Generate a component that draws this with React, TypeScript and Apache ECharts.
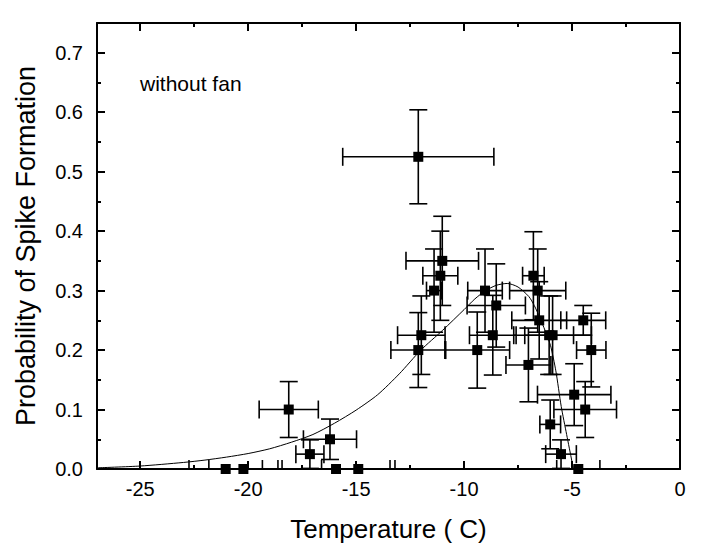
import React, { useEffect, useRef } from "react";
import * as echarts from "echarts";

// ---- axis ticks / labels ----
const xMajorTicks = [-25, -20, -15, -10, -5, 0];
const xMinorTicks = [-22.5, -17.5, -12.5, -7.5, -2.5];
const yMajorTicks = [0, 0.1, 0.2, 0.3, 0.4, 0.5, 0.6, 0.7];
const yMinorTicks = [0.05, 0.15, 0.25, 0.35, 0.45, 0.55, 0.65];

// ---- measured points (temperature, probability, x error, y error) ----
const temperature = [
  -21.04, -20.22, -18.12, -17.14, -16.21, -15.93, -14.9,
  -12.12, -11.01, -11.1, -11.39, -11.98, -12.12,
  -9.03, -8.51, -8.67, -9.39, -7.02,
  -6.79, -6.59, -6.52, -6.06, -5.9,
  -4.48, -4.11, -4.9, -4.39, -6.01, -5.51, -4.71,
];
const probability = [
  0, 0, 0.1, 0.025, 0.05, 0, 0,
  0.525, 0.35, 0.325, 0.3, 0.225, 0.2,
  0.3, 0.275, 0.225, 0.2, 0.175,
  0.325, 0.3, 0.25, 0.225, 0.225,
  0.25, 0.2, 0.125, 0.1, 0.075, 0.025, 0,
];
const temperatureError = [
  1.7, 1.6, 1.37, 0.65, 1.23, 2.5, 1.7,
  3.5, 1.68, 0.81, 0.35, 1.1, 1.27,
  0.8, 1.35, 1.08, 1.5, 1.04,
  0.5, 1.3, 1.27, 1.13, 1.8,
  1.04, 0.68, 1.7, 1.45, 0.48, 0.71, 1.0,
];
const probabilityError = [
  0, 0, 0.047, 0.024, 0.034, 0, 0,
  0.079, 0.075, 0.075, 0.07, 0.066, 0.063,
  0.07, 0.07, 0.067, 0.064, 0.062,
  0.074, 0.07, 0.065, 0.066, 0.066,
  0.025, 0.062, 0.052, 0.047, 0.041, 0.024, 0,
];

// ---- fitted curve ----
const fitTemperature = [
  -27, -25, -23, -22, -21, -20, -19, -18, -17, -16, -15, -14, -13, -12, -11, -10,
  -9.5, -9, -8.5, -8, -7.5, -7, -6.75, -6.5, -6.25, -6, -5.75, -5.5, -5.25, -5.0, -4.93,
];
const fitProbability = [
  0.002, 0.005, 0.011, 0.015, 0.02, 0.026, 0.034, 0.045, 0.058, 0.077, 0.099, 0.125, 0.16, 0.2, 0.233, 0.268,
  0.286, 0.3, 0.309, 0.312, 0.306, 0.29, 0.275, 0.255, 0.233, 0.208, 0.165, 0.105, 0.058, 0.012, 0,
];

const FONT = "'Liberation Sans', Arial, sans-serif";
const BLACK = "#000000";

export default function App() {
  const ref = useRef<HTMLDivElement>(null);

  useEffect(() => {
    if (!ref.current) return;
    const chart = echarts.init(ref.current, undefined, { renderer: "svg" });

    const points = temperature.map((t, i) => [t, probability[i], temperatureError[i], probabilityError[i]]);
    const fit = fitTemperature.map((t, i) => [t, fitProbability[i]]);

    const axisLine = { show: true, onZero: false, lineStyle: { color: BLACK, width: 2 } };

    const xBase = {
      type: "value" as const,
      min: -27,
      max: 0,
      gridIndex: 0,
      splitLine: { show: false },
      axisLine,
    };
    const yBase = {
      type: "value" as const,
      min: 0,
      max: 0.75,
      gridIndex: 0,
      splitLine: { show: false },
      axisLine,
    };

    const option: any = {
      animation: false,
      backgroundColor: "#ffffff",
      grid: { left: 97, right: 23, top: 23, bottom: 83, containLabel: false, outerBoundsMode: "none" },
      xAxis: [
        {
          ...xBase,
          position: "bottom",
          axisTick: { show: true, inside: true, length: 8, customValues: xMajorTicks, lineStyle: { color: BLACK, width: 2 } },
          axisLabel: {
            show: true,
            customValues: xMajorTicks,
            color: BLACK,
            fontSize: 20,
            fontFamily: FONT,
            margin: 10,
          },
          name: "Temperature ( C)",
          nameLocation: "middle",
          nameGap: 47,
          nameMoveOverlap: false,
          nameTextStyle: { color: BLACK, fontSize: 26, fontFamily: FONT },
        },
        {
          ...xBase,
          position: "bottom",
          axisLine: { show: false, onZero: false },
          axisTick: { show: true, inside: true, length: 4, customValues: xMinorTicks, lineStyle: { color: BLACK, width: 2 } },
          axisLabel: { show: false },
        },
        {
          ...xBase,
          position: "top",
          axisTick: { show: true, inside: true, length: 8, customValues: xMajorTicks, lineStyle: { color: BLACK, width: 2 } },
          axisLabel: { show: false },
        },
        {
          ...xBase,
          position: "top",
          axisLine: { show: false, onZero: false },
          axisTick: { show: true, inside: true, length: 4, customValues: xMinorTicks, lineStyle: { color: BLACK, width: 2 } },
          axisLabel: { show: false },
        },
      ],
      yAxis: [
        {
          ...yBase,
          position: "left",
          axisTick: { show: true, inside: true, length: 8, customValues: yMajorTicks, lineStyle: { color: BLACK, width: 2 } },
          axisLabel: {
            show: true,
            customValues: yMajorTicks,
            formatter: (v: number) => v.toFixed(1),
            color: BLACK,
            fontSize: 20,
            fontFamily: FONT,
            margin: 14,
          },
          name: "Probability of Spike Formation",
          nameLocation: "middle",
          nameGap: 58,
          nameMoveOverlap: false,
          nameTextStyle: { color: BLACK, fontSize: 27, fontFamily: FONT },
        },
        {
          ...yBase,
          position: "left",
          axisLine: { show: false, onZero: false },
          axisTick: { show: true, inside: true, length: 4, customValues: yMinorTicks, lineStyle: { color: BLACK, width: 2 } },
          axisLabel: { show: false },
        },
        {
          ...yBase,
          position: "right",
          axisTick: { show: true, inside: true, length: 8, customValues: yMajorTicks, lineStyle: { color: BLACK, width: 2 } },
          axisLabel: { show: false },
        },
        {
          ...yBase,
          position: "right",
          axisLine: { show: false, onZero: false },
          axisTick: { show: true, inside: true, length: 4, customValues: yMinorTicks, lineStyle: { color: BLACK, width: 2 } },
          axisLabel: { show: false },
        },
      ],
      graphic: [
        {
          type: "text",
          x: 140,
          y: 83,
          style: {
            text: "without fan",
            fill: BLACK,
            font: `21px ${FONT}`,
            verticalAlign: "middle",
            align: "left",
          },
        },
      ],
      series: [
        {
          type: "custom",
          name: "errors",
          xAxisIndex: 0,
          yAxisIndex: 0,
          data: points,
          encode: { x: 0, y: 1 },
          z: 2,
          renderItem: (params: any, api: any) => {
            const x = api.value(0);
            const y = api.value(1);
            const xe = api.value(2);
            const ye = api.value(3);
            const cs = params.coordSys;
            const top = cs.y;
            const bottom = cs.y + cs.height;
            const c = api.coord([x, y]);
            const xl = api.coord([x - xe, y])[0];
            const xr = api.coord([x + xe, y])[0];
            const yt = api.coord([x, y + ye])[1];
            const yb = api.coord([x, y - ye])[1];
            const cap = 9;
            const clampY = (v: number) => Math.max(top, Math.min(bottom, v));
            const style = { stroke: BLACK, lineWidth: 1.6, fill: null };
            const children: any[] = [];
            const line = (x1: number, y1: number, x2: number, y2: number) =>
              children.push({ type: "line", shape: { x1, y1, x2, y2 }, style });
            if (xe > 0) {
              line(xl, c[1], xr, c[1]);
              line(xl, clampY(c[1] - cap), xl, clampY(c[1] + cap));
              line(xr, clampY(c[1] - cap), xr, clampY(c[1] + cap));
            }
            if (ye > 0) {
              line(c[0], yt, c[0], clampY(yb));
              line(c[0] - cap, yt, c[0] + cap, yt);
              if (yb <= bottom) line(c[0] - cap, yb, c[0] + cap, yb);
            }
            return { type: "group", children };
          },
        },
        {
          type: "line",
          name: "fit",
          xAxisIndex: 0,
          yAxisIndex: 0,
          data: fit,
          smooth: 0.25,
          symbol: "none",
          z: 3,
          lineStyle: { color: BLACK, width: 1 },
        },
        {
          type: "scatter",
          name: "points",
          xAxisIndex: 0,
          yAxisIndex: 0,
          data: points.map((p) => [p[0], p[1]]),
          symbol: "rect",
          symbolSize: 10,
          z: 4,
          itemStyle: { color: BLACK, opacity: 1 },
        },
      ],
    };

    chart.setOption(option);
    return () => chart.dispose();
  }, []);

  return (
    <div
      ref={ref}
      style={{ position: "fixed", left: 0, top: 0, width: 703, height: 552, background: "#ffffff" }}
    />
  );
}
